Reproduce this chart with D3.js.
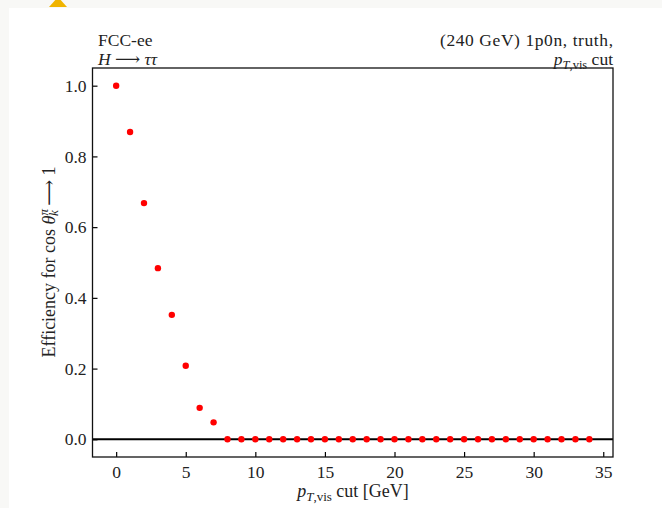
<!DOCTYPE html>
<html><head><meta charset="utf-8">
<script src="https://cdn.jsdelivr.net/npm/d3@7"></script>
<style>
html,body{margin:0;padding:0;background:#f8f8f6;}
svg{display:block;}
svg text{font-family:"Liberation Serif","DejaVu Serif",serif !important;fill:#222;}
</style></head><body>
<svg id="c" width="662" height="508"></svg>
<script>
const cuts = d3.range(0, 35);
const effValues = [1.0, 0.869, 0.668, 0.484, 0.352, 0.208, 0.089, 0.048,
  0,0,0,0,0,0,0,0,0,0,0,0,0,0,0,0,0,0,0,0,0,0,0,0,0,0,0];
const xTicks = [0,5,10,15,20,25,30,35];
const yTicks = [0.0,0.2,0.4,0.6,0.8,1.0];

const svg = d3.select("#c");
svg.append("rect").attr("x",9).attr("y",8).attr("width",653).attr("height",500).attr("fill","#fff");
svg.append("path").attr("d","M49,7 L58,-3 L67,7 Z").attr("fill","#f0b400");

const L=92.5, R=613, T=68, B=457;
const x = d3.scaleLinear().domain([-1.7, 35.7]).range([L, R]);
const y = d3.scaleLinear().domain([-0.05, 1.05]).range([B, T]);

svg.append("line").attr("x1",L).attr("x2",R).attr("y1",y(0)).attr("y2",y(0))
  .attr("stroke","#000").attr("stroke-width",2);

svg.append("g").selectAll("circle").data(cuts).join("circle")
  .attr("cx", d=>x(d)).attr("cy", (d,i)=>y(effValues[i])).attr("r",3.2).attr("fill","#ff0000");

const xAxis = d3.axisBottom(x).tickValues(xTicks).tickSize(-5).tickPadding(9).tickFormat(d3.format("d"));
const gx = svg.append("g").attr("transform",`translate(0,${B})`).call(xAxis);
const yAxis = d3.axisLeft(y).tickValues(yTicks).tickSize(-5).tickPadding(6).tickFormat(d3.format(".1f"));
const gy = svg.append("g").attr("transform",`translate(${L},0)`).call(yAxis);
[gx,gy].forEach(g=>{
  g.attr("font-family",null);
  g.select(".domain").remove();
  g.selectAll(".tick line").attr("stroke","#000").attr("stroke-width",1.2);
  g.selectAll(".tick text").style("font-family","'Liberation Serif', serif").style("font-size","17.5px").attr("fill","#222");
});
svg.append("rect").attr("x",L).attr("y",T).attr("width",R-L).attr("height",B-T)
  .attr("fill","none").attr("stroke","#111").attr("stroke-width",1.3);

const FS = 17.5;
svg.append("text").attr("x",98).attr("y",46).attr("font-size",FS).text("FCC-ee");
const t2 = svg.append("text").attr("x",98).attr("y",65).attr("font-size",FS);
t2.append("tspan").attr("font-style","italic").text("H");
t2.append("tspan").text(" ⟶ ");
t2.append("tspan").attr("font-style","italic").text("ττ");

svg.append("text").attr("x",R).attr("y",46).attr("font-size",FS).attr("text-anchor","end")
  .attr("textLength",173).attr("lengthAdjust","spacing").text("(240 GeV) 1p0n, truth,");
const t4 = svg.append("text").attr("x",R).attr("y",65).attr("font-size",FS).attr("text-anchor","end");
t4.append("tspan").attr("font-style","italic").text("p");
t4.append("tspan").attr("font-size",12.5).attr("dy",4).attr("font-style","italic").text("T");
t4.append("tspan").attr("font-size",12.5).text(",vis");
t4.append("tspan").attr("dy",-4).text(" cut");

const xl = svg.append("text").attr("x",353).attr("y",497).attr("font-size",18).attr("text-anchor","middle");
xl.append("tspan").attr("font-style","italic").text("p");
xl.append("tspan").attr("font-size",13).attr("dy",4).attr("font-style","italic").text("T");
xl.append("tspan").attr("font-size",13).text(",vis");
xl.append("tspan").attr("dy",-4).text(" cut [GeV]");

const yl = svg.append("text").attr("transform","translate(55,262) rotate(-90)").attr("font-size",18).attr("text-anchor","middle");
yl.append("tspan").text("Efficiency for cos ");
yl.append("tspan").attr("font-style","italic").text("θ");
yl.append("tspan").attr("font-size",13).attr("dy",-7).attr("font-style","italic").text("π");
yl.append("tspan").attr("font-size",13).attr("dy",10).attr("dx",-7).attr("font-style","italic").text("k");
yl.append("tspan").attr("dy",-3).text(" ⟶ 1");
</script>
</body></html>
